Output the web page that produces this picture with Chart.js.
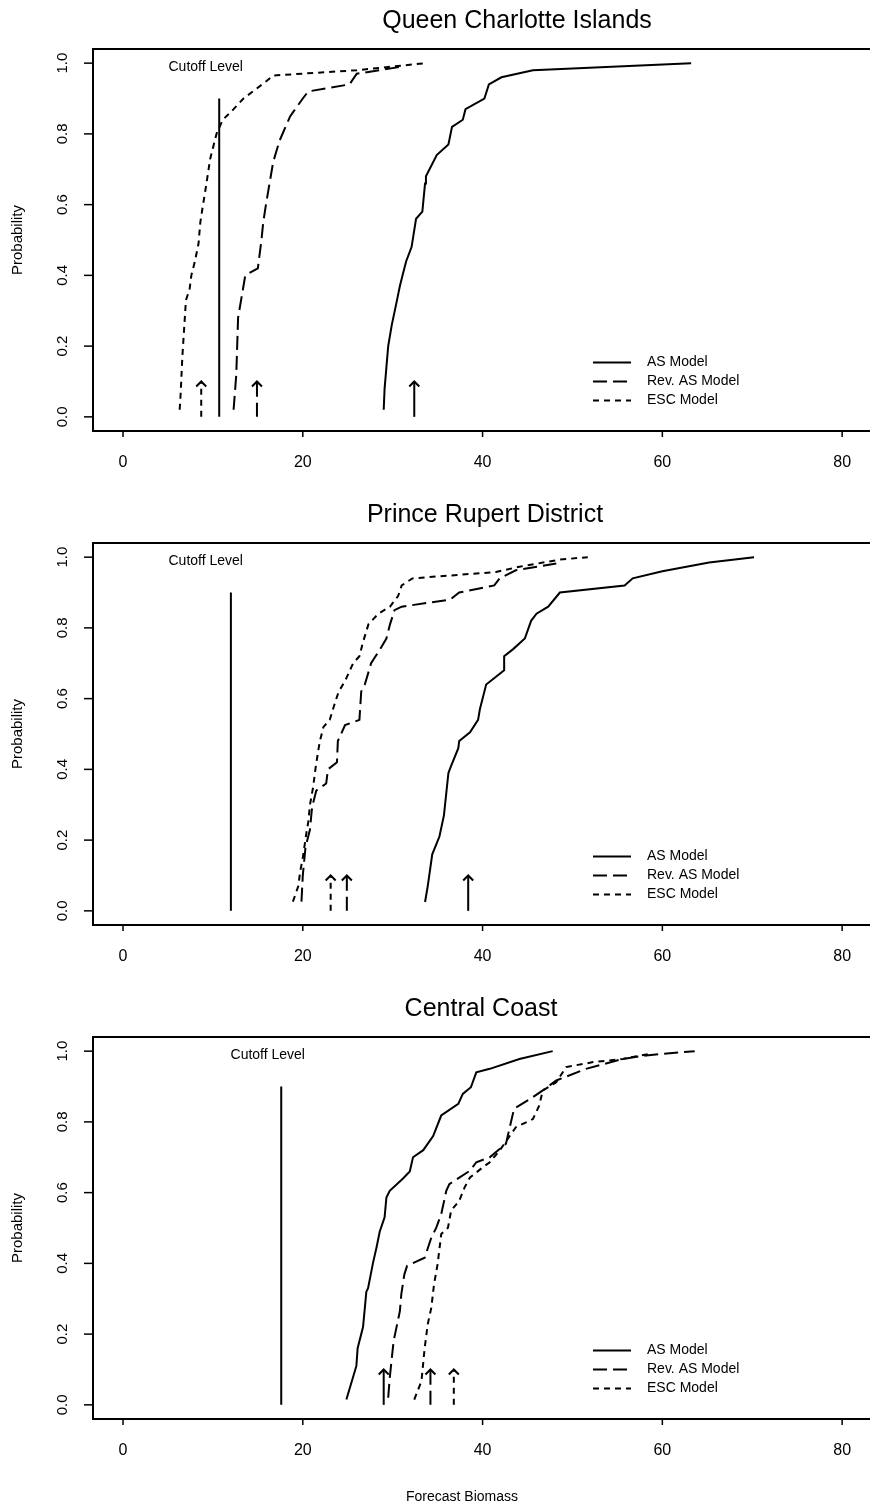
<!DOCTYPE html>
<html>
<head>
<meta charset="utf-8">
<script src="https://cdn.jsdelivr.net/npm/chart.js@4/dist/chart.umd.min.js"></script>
<style>
  html, body { margin: 0; padding: 0; background: #fff; overflow: hidden; }
  canvas { display: block; }
</style>
</head>
<body>
<canvas id="c1" width="870" height="494"></canvas>
<canvas id="c2" width="870" height="494"></canvas>
<canvas id="c3" width="870" height="522"></canvas>
<script>
// ---- data ----
const titles = ['Queen Charlotte Islands', 'Prince Rupert District', 'Central Coast'];
const seriesNames = ['AS Model', 'Rev. AS Model', 'ESC Model'];
const xTicks = [0, 20, 40, 60, 80];
const yTicks = [0, 0.2, 0.4, 0.6, 0.8, 1.0];
const xLabel = 'Forecast Biomass';
const yLabel = 'Probability';
const cutoffText = 'Cutoff Level';

const cutoffs = [10.7, 12.0, 17.6];
const cutoffTop = 0.9;
const arrowTop = 0.1;

// arrows: AS, Rev. AS, ESC
const qciArrows = [32.4, 14.9, 8.7];
const prdArrows = [38.4, 24.9, 23.1];
const ccArrows = [29.0, 34.2, 36.8];

// Queen Charlotte Islands
const qciAS = [[29.0,0.02],[29.1,0.08],[29.3,0.14],[29.5,0.2],[29.9,0.26],[30.4,0.32],[30.8,0.37],[31.1,0.40],[31.5,0.44],[32.1,0.48],[32.6,0.56],[33.3,0.58],[33.6,0.66],[33.7,0.68],[34.9,0.74],[36.2,0.77],[36.6,0.82],[37.8,0.84],[38.1,0.87],[40.2,0.90],[40.7,0.94],[42.1,0.96],[45.6,0.98],[63.2,1.0]];
const qciRev = [[12.3,0.02],[12.6,0.12],[12.8,0.28],[13.2,0.34],[13.6,0.40],[15.0,0.42],[15.4,0.50],[15.6,0.55],[15.9,0.60],[16.7,0.72],[17.4,0.78],[18.6,0.85],[20.0,0.90],[20.6,0.92],[25.2,0.94],[26.0,0.97],[28.5,0.98],[31.0,0.99]];
const qciESC = [[6.3,0.02],[6.4,0.06],[6.6,0.17],[6.8,0.25],[7.0,0.33],[7.4,0.36],[7.6,0.40],[8.0,0.44],[8.4,0.49],[8.6,0.55],[8.9,0.60],[9.1,0.63],[9.7,0.73],[10.4,0.80],[11.1,0.84],[12.3,0.87],[13.4,0.90],[16.0,0.95],[16.7,0.965],[26.0,0.98],[33.7,1.0]];

// Prince Rupert District
const prdAS = [[33.6,0.025],[33.9,0.07],[34.4,0.16],[35.2,0.21],[35.7,0.27],[36.2,0.39],[36.5,0.41],[37.3,0.46],[37.4,0.48],[38.6,0.505],[39.5,0.54],[39.7,0.57],[40.4,0.64],[42.4,0.68],[42.4,0.72],[43.4,0.74],[44.7,0.77],[45.4,0.82],[46.0,0.84],[47.3,0.86],[48.6,0.90],[55.8,0.92],[56.7,0.94],[60.0,0.96],[65.2,0.985],[70.2,1.0]];
const prdRev = [[19.85,0.026],[20.0,0.10],[20.3,0.18],[20.8,0.23],[21.0,0.285],[21.2,0.31],[21.5,0.34],[22.6,0.36],[22.8,0.40],[23.8,0.42],[23.9,0.48],[24.7,0.525],[26.3,0.54],[26.5,0.62],[26.9,0.64],[27.6,0.70],[28.6,0.74],[29.3,0.77],[29.7,0.81],[30.2,0.85],[31.0,0.86],[36.4,0.88],[37.4,0.90],[41.3,0.92],[41.9,0.94],[43.7,0.963],[48.2,0.982]];
const prdESC = [[18.9,0.026],[19.5,0.07],[19.7,0.11],[20.0,0.15],[20.4,0.22],[20.6,0.25],[20.8,0.30],[21.15,0.35],[21.4,0.40],[21.7,0.45],[21.9,0.48],[22.3,0.52],[23.0,0.54],[23.6,0.59],[24.0,0.62],[24.7,0.65],[25.6,0.70],[26.3,0.72],[26.7,0.76],[27.3,0.81],[28.4,0.84],[29.7,0.86],[30.6,0.89],[31.0,0.92],[32.2,0.94],[41.5,0.958],[44.1,0.973],[48.6,0.993],[51.7,1.0]];

// Central Coast
const ccAS = [[24.85,0.015],[25.96,0.11],[26.1,0.16],[26.7,0.22],[27.07,0.32],[27.26,0.33],[27.8,0.40],[28.2,0.445],[28.56,0.49],[29.1,0.53],[29.3,0.586],[29.67,0.605],[31.15,0.64],[31.9,0.66],[32.26,0.70],[33.4,0.72],[34.5,0.76],[35.4,0.818],[37.3,0.851],[37.8,0.879],[38.7,0.898],[39.3,0.94],[40.8,0.95],[44.1,0.978],[47.8,1.0]];
const ccRev = [[29.5,0.02],[29.67,0.076],[30.1,0.18],[30.8,0.265],[30.96,0.313],[31.3,0.369],[31.6,0.393],[33.56,0.416],[34.3,0.473],[34.85,0.501],[35.4,0.539],[35.96,0.605],[36.3,0.624],[38.6,0.662],[39.3,0.686],[40.8,0.70],[42.6,0.738],[43.5,0.837],[45.6,0.87],[46.7,0.889],[48.2,0.917],[51.5,0.95],[55.6,0.978],[58.2,0.988],[63.6,1.0]];
const ccESC = [[32.4,0.015],[33.2,0.067],[33.56,0.161],[33.9,0.228],[34.3,0.275],[34.6,0.341],[35.0,0.398],[35.4,0.483],[36.15,0.501],[36.5,0.549],[37.4,0.577],[38.0,0.615],[38.6,0.643],[40.0,0.671],[40.8,0.686],[41.9,0.719],[43.7,0.785],[45.6,0.808],[46.3,0.846],[46.7,0.889],[48.2,0.912],[49.3,0.955],[52.3,0.969],[55.6,0.978],[58.9,0.994]];

// ---- styling ----
const FONT = '"Liberation Sans", Arial, Helvetica, sans-serif';
const dashes = [[], [14, 6], [6, 5]];

const toXY = (pts) => pts.map((p) => ({ x: p[0], y: p[1] }));

const decor = {
  id: 'decor',
  afterDatasetsDraw(chart, args, opts) {
    const ctx = chart.ctx;
    const a = chart.chartArea;
    const xs = chart.scales.x;
    const ys = chart.scales.y;
    ctx.save();
    ctx.strokeStyle = '#000';
    ctx.fillStyle = '#000';

    // arrow heads
    chart.data.datasets.forEach((ds, i) => {
      if (!ds.arrow) return;
      const tip = chart.getDatasetMeta(i).data[1];
      ctx.lineWidth = 2;
      ctx.setLineDash([]);
      ctx.beginPath();
      ctx.moveTo(tip.x - 5, tip.y + 5);
      ctx.lineTo(tip.x, tip.y);
      ctx.lineTo(tip.x + 5, tip.y + 5);
      ctx.stroke();
    });

    // box (right side falls outside the picture)
    ctx.lineWidth = 2;
    ctx.beginPath();
    ctx.moveTo(a.right + 2, a.top);
    ctx.lineTo(a.left, a.top);
    ctx.lineTo(a.left, a.bottom);
    ctx.lineTo(a.right + 2, a.bottom);
    ctx.stroke();

    // x axis ticks + labels
    ctx.lineWidth = 1.5;
    ctx.font = '16px ' + FONT;
    ctx.textAlign = 'center';
    ctx.textBaseline = 'middle';
    xTicks.forEach((v) => {
      const px = xs.getPixelForValue(v);
      ctx.beginPath();
      ctx.moveTo(px, a.bottom);
      ctx.lineTo(px, a.bottom + 6);
      ctx.stroke();
      ctx.fillText(String(v), px, a.bottom + 32);
    });

    // y axis ticks + rotated labels
    ctx.font = '15px ' + FONT;
    yTicks.forEach((v) => {
      const py = ys.getPixelForValue(v);
      ctx.beginPath();
      ctx.moveTo(a.left, py);
      ctx.lineTo(a.left - 9, py);
      ctx.stroke();
      ctx.save();
      ctx.translate(a.left - 30, py);
      ctx.rotate(-Math.PI / 2);
      ctx.fillText(v.toFixed(1), 0, 0);
      ctx.restore();
    });

    // y axis title
    ctx.save();
    ctx.translate(18, (a.top + a.bottom) / 2);
    ctx.rotate(-Math.PI / 2);
    ctx.fillText(yLabel, 0, 0);
    ctx.restore();

    // panel title
    ctx.font = '25px ' + FONT;
    ctx.fillText(opts.title, opts.titleX, 21);

    // cutoff label
    ctx.font = '14px ' + FONT;
    ctx.fillText(cutoffText, xs.getPixelForValue(opts.cutoffLabelX), ys.getPixelForValue(0.99));

    // legend
    ctx.textAlign = 'left';
    const rows = [362.5, 381.5, 400.5];
    seriesNames.forEach((name, i) => {
      ctx.lineWidth = 2;
      ctx.setLineDash(dashes[i]);
      ctx.beginPath();
      ctx.moveTo(593, rows[i]);
      ctx.lineTo(631, rows[i]);
      ctx.stroke();
      ctx.setLineDash([]);
      ctx.fillText(name, 647, rows[i]);
    });

    if (opts.xTitle) {
      ctx.textAlign = 'center';
      ctx.fillText(xLabel, 462, 509);
    }
    ctx.restore();
  }
};

function makePanel(id, idx, curves, arrows, extra) {
  const canvas = document.getElementById(id);
  const datasets = [];
  datasets.push({
    data: toXY([[cutoffs[idx], 0], [cutoffs[idx], cutoffTop]]),
    borderColor: '#000', borderWidth: 2, showLine: true, pointRadius: 0
  });
  curves.forEach((c, i) => {
    datasets.push({
      label: seriesNames[i],
      data: toXY(c),
      borderColor: '#000', borderWidth: 2, borderDash: dashes[i],
      showLine: true, pointRadius: 0, tension: 0
    });
  });
  arrows.forEach((x, i) => {
    datasets.push({
      data: toXY([[x, 0], [x, arrowTop]]),
      borderColor: '#000', borderWidth: 2, borderDash: dashes[i],
      showLine: true, pointRadius: 0, arrow: true
    });
  });

  new Chart(canvas.getContext('2d'), {
    type: 'scatter',
    data: { datasets },
    options: {
      responsive: false,
      animation: false,
      devicePixelRatio: 1,
      layout: { padding: { left: 93, top: 49, right: 0, bottom: canvas.height - 431 } },
      plugins: {
        legend: { display: false },
        tooltip: { enabled: false },
        decor: extra
      },
      scales: {
        x: { type: 'linear', display: false, min: -3.34, max: 83.1 },
        y: { type: 'linear', display: false, min: -0.04, max: 1.04 }
      }
    },
    plugins: [decor]
  });
}

makePanel('c1', 0, [qciAS, qciRev, qciESC], qciArrows,
  { title: titles[0], titleX: 517, cutoffLabelX: 9.2, xTitle: false });
makePanel('c2', 1, [prdAS, prdRev, prdESC], prdArrows,
  { title: titles[1], titleX: 485, cutoffLabelX: 9.2, xTitle: false });
makePanel('c3', 2, [ccAS, ccRev, ccESC], ccArrows,
  { title: titles[2], titleX: 481, cutoffLabelX: 16.1, xTitle: true });
</script>
</body>
</html>
